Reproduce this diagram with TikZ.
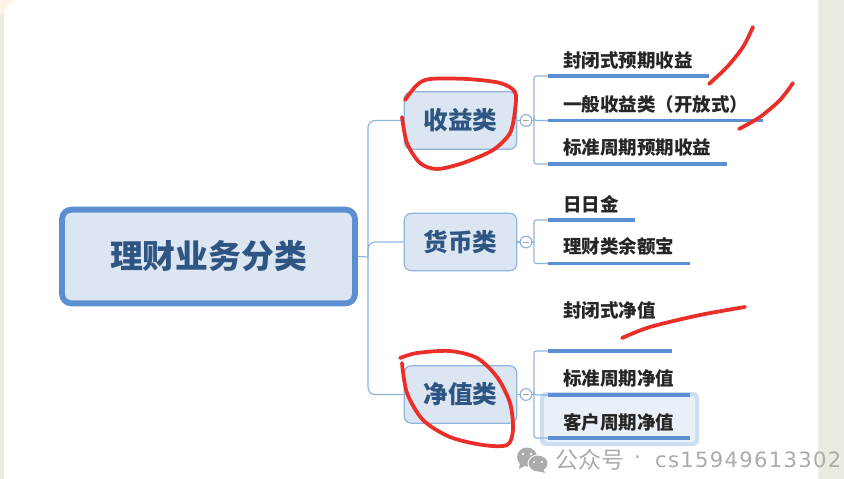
\documentclass[tikz,border=0pt]{standalone}
\usepackage{fontspec}
\setmainfont{Noto Sans CJK SC}
\newfontfamily\markfont[LetterSpace=6.3]{DejaVu Sans}
\usetikzlibrary{positioning}

\definecolor{paper}{HTML}{EDEBE1}
\definecolor{corner}{HTML}{FDF3E6}
\definecolor{boxfill}{HTML}{DCE6F2}
\definecolor{boxline}{HTML}{5B8FD2}
\definecolor{thinline}{HTML}{8FB4DE}
\definecolor{headtext}{HTML}{2F5583}
\definecolor{inkred}{HTML}{EA2E28}
\definecolor{markgray}{HTML}{ABABAB}

\tikzset{
    rootbox/.style={draw=boxline,fill=boxfill,line width=5pt,rounded corners=8pt,minimum width=250pt,minimum height=80pt,text=headtext,font=\fontsize{28}{28}\bfseries},
    catbox/.style={draw=thinline,fill=boxfill,line width=1pt,rounded corners=6pt,minimum width=96pt,minimum height=49pt,text=headtext,font=\fontsize{21}{21}\bfseries},
    toggle/.style={circle,draw=thinline,fill=white,line width=1pt,inner sep=0pt,minimum size=10pt},
    link/.style={draw=thinline,line width=1pt,rounded corners=6pt},
    bar/.style={draw=boxline,line width=3pt},
    leaf/.style={anchor=west,inner sep=0pt,text=black!85,font=\fontsize{15.8}{16}\bfseries},
    ink/.style={draw=inkred,line width=3.2pt,line cap=round,line join=round},
    marktext/.style={anchor=west,inner sep=0pt,text=markgray}
}

\begin{document}
\begin{tikzpicture}[x=0.03cm,y=-0.03cm]
    \fill [paper] (0,0) rectangle (844,479);
    \useasboundingbox (0,0) rectangle (844,479);
    \fill [corner] (0,0) rectangle (30,14);
    \fill [white] (818,0) [rounded corners=14pt] -- (4,0) [sharp corners] -- (4,479) -- (818,479) -- cycle;

    % highlighted row
    \fill [boxline!30,rounded corners=5pt] (540,392) rectangle (699,446);
    \fill [boxfill!60!white,rounded corners=3pt] (544,396) rectangle (695,442);

    \node [rootbox] (root) at (208.5,256.5) {理财业务分类};
    \node [catbox] (income) at (460.5,120.5) {收益类};
    \node [catbox] (money) at (460.5,242) {货币类};
    \node [catbox] (netval) at (460.5,394.5) {净值类};

    \coordinate (trunk) at (368,257);
    \draw [link] (root.east) -- (trunk);
    \draw [link] (income.west) -| (trunk) |- (netval.west);
    \draw [link] (trunk) |- (money.west);

    \foreach \cat/\y in {income/120.5,money/242,netval/394.5}{
        \node [toggle] (toggle\cat) at (526,\y) {};
        \coordinate (hub\cat) at (534,\y);
        \draw [link] (\cat.east) -- (toggle\cat);
        \draw [link] (toggle\cat) -- (hub\cat);
        \draw [gray!70,line width=0.7pt] ([xshift=-2.2pt]toggle\cat.center) -- ([xshift=2.2pt]toggle\cat.center);
    }

    \foreach \n/\cat/\y/\xend/\ly/\txt in {
        a/income/76/709/60/封闭式预期收益,
        b/income/120.5/763/104/一般收益类（开放式）,
        c/income/164/727/147.5/标准周期预期收益,
        d/money/220/635/204/日日金,
        e/money/263.5/690/246/理财类余额宝,
        f/netval/351/672/310/封闭式净值,
        g/netval/395/690/378/标准周期净值,
        h/netval/438/690/422/客户周期净值}{
        \coordinate (bar\n) at (548,\y);
        \coordinate (barend\n) at (\xend,\y);
        \draw [link,rounded corners=2pt] (hub\cat) |- (bar\n);
        \draw [bar] (bar\n) -- (barend\n);
        \node [leaf] (leaf\n) at (563,\ly) {\txt};
    }

    % red pen
    \draw [ink] plot [smooth] coordinates {(405,100) (417,85) (430,79) (467,79) (500,83) (515,92) (515,110) (510,133) (493,150) (463,163) (437,169) (420,163) (407,143) (402,117)};
    \draw [ink] plot [smooth] coordinates {(753,27) (743,47) (727,67) (709,84)};
    \draw [ink] plot [smooth] coordinates {(793,83) (780,100) (760,117) (739,129)};
    \draw [ink] plot [smooth] coordinates {(745,307) (700,315) (650,327) (622,338)};
    \draw [ink] plot [smooth] coordinates {(400,358) (417,353) (450,351) (477,358) (497,377) (510,403) (513,430) (507,445) (483,445) (450,437) (423,420) (407,393) (402,363)};

    % watermark
    \fill [markgray] (527,457) ellipse (10 and 9.5);
    \fill [markgray] (520,463) -- (519,469) -- (526,465) -- cycle;
    \fill [markgray,draw=white,line width=0.8pt] (538,463.5) ellipse (10 and 8.5);
    \fill [markgray] (543,469) -- (545,473) -- (538,471) -- cycle;
    \fill [white] (523,454) circle (1.3) (531,454) circle (1.3) (534,462) circle (1.1) (542,462) circle (1.1);
    \node [marktext,font=\fontsize{19.6}{20}\selectfont] (markcn) at (555,460) {公众号};
    \node [marktext,font=\fontsize{18}{18}\markfont] (markdot) at (634,460) {·};
    \node [marktext,font=\fontsize{18}{18}\markfont] (markid) at (655,460) {cs15949613302};
\end{tikzpicture}
\end{document}
